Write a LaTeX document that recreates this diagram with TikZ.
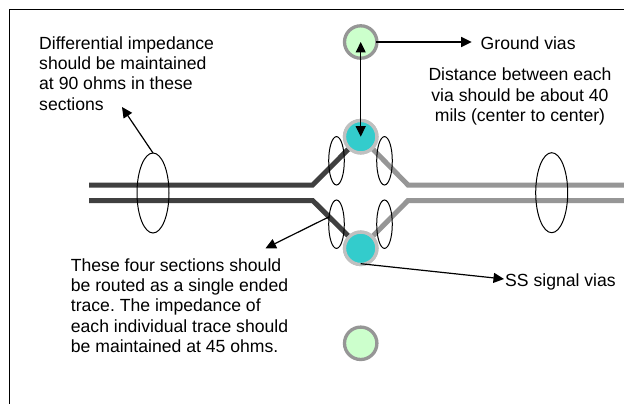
\documentclass[tikz,border=0pt]{standalone}
\usepackage{fontspec}
\setmainfont{Liberation Sans}
\usetikzlibrary{arrows.meta}
\definecolor{darktrace}{HTML}{404040}
\definecolor{lighttrace}{HTML}{969696}
\definecolor{ringgray}{HTML}{C0C0C0}
\definecolor{ringdark}{HTML}{969696}
\definecolor{gvia}{HTML}{CCFFCC}
\definecolor{svia}{HTML}{33CCCC}
\tikzset{
  tr/.style={line width=5pt,line join=miter},
  dk/.style={tr,draw=darktrace},
  lt/.style={tr,draw=lighttrace},
  gv/.style={circle,draw=ringdark,fill=gvia,line width=3.3pt,minimum size=32.4pt,inner sep=0pt},
  sv/.style={circle,draw=ringgray,fill=svia,line width=3.3pt,minimum size=32.4pt,inner sep=0pt},
  lbl/.style={font=\fontsize{17.6pt}{20.2pt}\selectfont\frenchspacing,inner sep=0pt},
  ln/.style={draw=black,line width=1.2pt},
  tip/.style={ln,-{Triangle[length=10.5pt,width=10pt]}},
  tips/.style={ln,{Triangle[length=10.5pt,width=10pt]}-{Triangle[length=10.5pt,width=10pt]}},
  ell/.style={draw=black,line width=1pt}
}
\begin{document}
\begin{tikzpicture}[x=1pt,y=-1pt]
\useasboundingbox (0,0) rectangle (624,404);
\fill[white] (0,0) rectangle (624,404);
\draw[line width=1.2pt] (9.5,404) -- (9.5,9.5) -- (624,9.5);
% traces
\coordinate (la) at (89,185);
\coordinate (lb) at (89,200.5);
\coordinate (ra) at (624,185);
\coordinate (rb) at (624,200.5);
\coordinate (jla) at (312.7,185);
\coordinate (jlb) at (312.7,200.5);
\coordinate (jra) at (408,185);
\coordinate (jrb) at (408,200.5);
\node[sv] (sa) at (360.7,136.7) {};
\node[sv] (sb) at (360.7,248.3) {};
\node[gv] (ga) at (360.7,42) {};
\node[gv] (gb) at (360.7,343.3) {};
\draw[dk] (la) -- (jla) -- (sa);
\draw[dk] (lb) -- (jlb) -- (sb);
\draw[lt] (ra) -- (jra) -- (sa);
\draw[lt] (rb) -- (jrb) -- (sb);
\node[sv] at (sa) {};
\node[sv] at (sb) {};
% ellipses
\draw[ell] (153,193) ellipse [x radius=16,y radius=40];
\draw[ell] (551.7,192.7) ellipse [x radius=16,y radius=40];
\draw[ell] (336.5,160.8) ellipse [x radius=7.8,y radius=24.2];
\draw[ell] (384.5,160.8) ellipse [x radius=7.8,y radius=24.2];
\draw[ell] (336.5,224.2) ellipse [x radius=7.8,y radius=24.2];
\draw[ell] (384.5,224.2) ellipse [x radius=7.8,y radius=24.2];
% labels
\node[lbl,align=left,anchor=north west] (t1) at (39,36.5) {Differential impedance\\should be maintained\\at 90 ohms in these\\sections};
\node[lbl,align=center,anchor=north] (t2) at (520,68) {Distance between each\\via should be about 40\\mils (center to center)};
\node[lbl,anchor=west] (t3) at (480.5,43) {Ground vias};
\node[lbl,anchor=west] (t4) at (505,282) {SS signal vias};
\node[lbl,align=left,anchor=north west] (t5) at (70.7,258.5) {These four sections should\\be routed as a single ended\\trace. The impedance of\\each individual trace should\\be maintained at 45 ohms.};
% connectors
\coordinate (c1) at (153,153);
\coordinate (c1e) at (122,107);
\coordinate (c2) at (329.3,216.7);
\coordinate (c2e) at (265.5,248.3);
\coordinate (c3) at (376,42);
\coordinate (c3e) at (471.7,42);
\coordinate (c4) at (360.7,263.7);
\coordinate (c4e) at (504,279);
\draw[tip] (c1) -- (c1e);
\draw[tip] (c2) -- (c2e);
\draw[tip] (c3) -- (c3e);
\draw[tip] (c4) -- (c4e);
\draw[tips] (ga.center) -- (sa.center);
\end{tikzpicture}
\end{document}
